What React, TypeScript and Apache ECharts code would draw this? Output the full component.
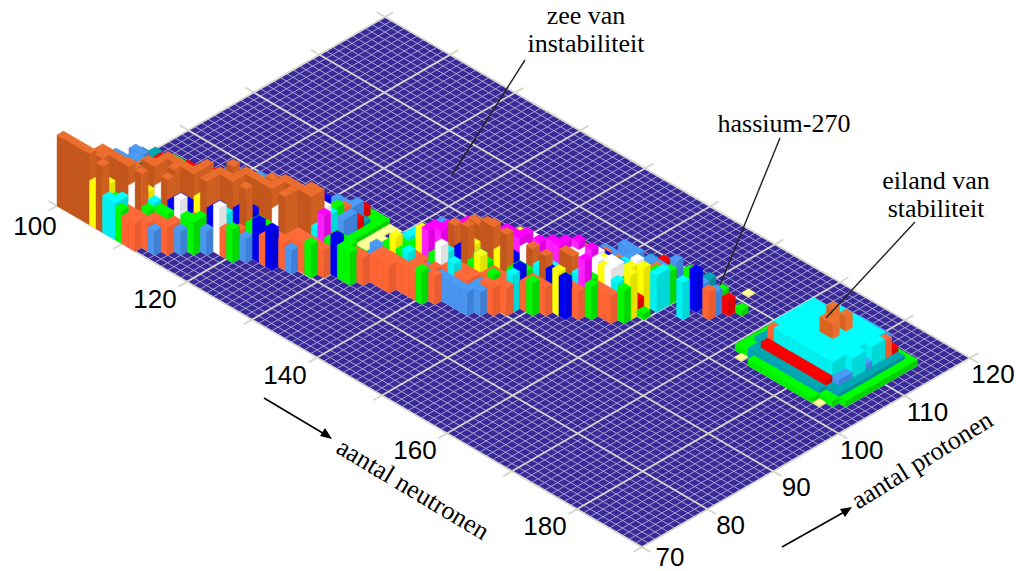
import React, { useEffect, useRef } from "react";
import * as echarts from "echarts";

// axis ranges and tick labels
const neutronRange = [100, 190];
const protonRange = [70, 120];
const neutronTicks = [100, 120, 140, 160, 180];
const protonTicks = [70, 80, 90, 100, 110, 120];

// half-life classes: key, column height
const classKeys = ["Z", "O", "o", "n", "m", "q", "M", "W", "Y", "B", "C", "G", "R", "K", "c", "k", "j", "r", "T", "g", "p"];
const classHeights = [71, 66, 66, 60, 52, 45, 55, 47, 44, 40, 37, 33, 28, 24, 30, 16, 3, 16, 10, 6, 1];

// one row per proton number: first neutron number, then a class per nuclide ("." = none)
const protonRows = [
  70, 71, 72, 73, 74, 75, 76, 77, 78, 79, 80, 81, 82, 83, 84, 85, 86, 87, 88, 89, 90, 91, 92, 93, 94, 95, 96, 97, 98, 99,
  100, 101, 102, 103, 104, 105, 106, 107, 108, 109, 111,
  102, 103, 104, 105, 106, 107, 108, 109, 110, 111, 112, 113, 114,
];
const firstNeutron = [
  100, 100, 100, 100, 100, 100, 100, 100, 100, 100, 100, 100, 100, 101, 102, 110, 113, 118, 121, 122, 122, 122, 125, 132, 134, 137, 141, 145, 146, 149,
  150, 146, 148, 149, 150, 151, 152, 153, 156, 157, 164,
  172, 171, 171, 171, 171, 171, 171, 171, 171, 171, 171, 172, 173,
];
const nuclideClasses = [
  "ZZZZZYOCCGRR",
  "YYWWOOYGCRRRRK",
  "WBmWOOOOOWOGRRR",
  "CGBCBCBnnWYCGGRK",
  "GGCCYGmWmOOWnBWGG",
  "RRGGGRBBBYOBOBBRGK",
  "RRRRGGBBmYOOOOOYOBWRG",
  "KKKRRGGCBBBBYYOBOBCKRK",
  "KKKKRRGCCCYBmBOMOOOBOGBRB",
  "rrKKKKRGRRGGCCBBYYOBBGGRRRK",
  "TKKrrrRRRRGGCCYBOBOOOOOWORRRG",
  "rrTrrrrrKKKGGGCCCCCBBYOWORRRRR",
  "TTTrrrrrrrRRGGGRCCBCnBOOOOOCMGBGG",
  "TgTTTrrrrrrRRRGGGCCBBYYMOOCRGGGRR",
  "pggggTTrrKKKRRGGGGCCYCWMWrppggrKRRR",
  "rrrKKKKRRRGGCCCCCrppggTgRRRRRRG",
  "rKKKKRRRGGCBGTppggTKKGYGCRRKR",
  "KKKKKRRGKgpppgTKRGGRRKRKKKKK",
  "KKKKRKgpppjTKKCGYMGWRCRRKK",
  "rKKKrgpppjTKRCYBMMCRRRRKRR",
  "TrrKTgpppjgrKRGYWMnBoGYRGRR",
  "gTTrggp.pjgrKRGBBYMBYCGRRRC",
  "gggppppjgTrKRGYYMnnooYoGBRG".slice(0, 7) + "gTrKRGYYMnnooYoGBRG",
  "gTrKRRGGGYWnmBBGGRRR",
  "KKRRGGCGWWMMMWmCmBYB",
  "KRRGRCCBBMBMBCGGRR",
  "RCCYWWWWMMmmCMG",
  "RCCYBMWWCGRRR",
  "GGBCWMWMWYWCG",
  "GCCBWYWWGY",
  "GCBBCBCYrg",
  "rKKRRRRRGCCWY",
  "grKRKRKKgGTC",
  "rKKKKKKKRGC..C",
  "grgKTKTRgG",
  "KKKrKKKK...B.R",
  "TTTTTr....K.K",
  "TTr.K.......r",
  "gggT......g",
  "g..T.g",
  "p",
  // island of stability
  "p.ggggggggggp",
  "ggTTTTTTTTTTTgg",
  "ggTrrrrrrrrrrTTg",
  "gTTRccccccccckTg",
  "gTTcccccccccckTg",
  "ggTcccccccccccTg",
  "gggcccccqqccccTg",
  "ggTcccccccccckTg",
  "gggccccqcqccccTg",
  "gTTcccccccccccTg",
  "gTTTTccccccccRTg",
  "gggTTTTKKKKKrTg",
  "gggggggggggggg",
];

const burnt = ["#ec6e2e", "#c2561c", "#cf5f20"];
const cyan = ["#00ffff", "#00f0f0", "#00d8d8"];
const coral = ["#ff6a3a", "#ff6433", "#e85c30"];
const cornflower = ["#4a9cf4", "#4a94ee", "#3c80d8"];
const classColors: Record<string, string[]> = {
  Z: burnt,
  O: burnt,
  o: burnt,
  n: burnt,
  m: burnt,
  q: ["#f0722f", "#d8641f", "#ec6e2e"],
  M: ["#ff00ff", "#ff20ff", "#e000e0"],
  W: ["#ffffff", "#ffffff", "#e0e0e0"],
  Y: ["#ffff10", "#ffff00", "#e4e000"],
  B: ["#0000ff", "#0000f4", "#0000d8"],
  C: cyan,
  c: cyan,
  G: ["#00ff00", "#00f800", "#00d800"],
  R: coral,
  K: cornflower,
  k: cornflower,
  j: cornflower,
  r: ["#ff0000", "#f40000", "#d80000"],
  T: ["#00a8b4", "#00a4b0", "#008c98"],
  g: ["#00ff00", "#00f000", "#00d000"],
  p: ["#ffff99", "#f0f090", "#e0e080"],
};

const heightOf = (key: string) => classHeights[classKeys.indexOf(key)];

const bars: number[][] = [];
const barKeys: string[] = [];
protonRows.forEach((z, i) => {
  nuclideClasses[i].split("").forEach((key, j) => {
    if (key !== ".") {
      bars.push([firstNeutron[i] + j, z, heightOf(key), bars.length]);
      barKeys.push(key);
    }
  });
});
const barOrder = bars.slice().sort((a, b) => a[0] - a[1] - (b[0] - b[1]) || a[0] + a[1] - b[0] - b[1]);

// oblique view of the plane (pixels per nucleon along each axis)
const project = (n: number, z: number, h = 0): number[] => [
  642 + (n - neutronRange[1]) * 6.5 + (z - protonRange[0]) * 6.56,
  547 + (n - neutronRange[1]) * 3.79 - (z - protonRange[0]) * 3.78 - h,
];

const makeLines = () => {
  const out: number[][] = [];
  const [n0, n1] = neutronRange;
  const [z0, z1] = protonRange;
  for (let n = n0; n <= n1; n++) {
    const major = (n - n0) % 10 === 0;
    out.push(major ? [n, z0 - 1.3, n, z1 + 1.3, 1] : [n, z0, n, z1, 0]);
  }
  for (let z = z0; z <= z1; z++) {
    const major = (z - z0) % 10 === 0;
    out.push(major ? [n0 - 1.3, z, n1 + 1.3, z, 1] : [n0, z, n1, z, 0]);
  }
  return out.sort((a, b) => a[4] - b[4]);
};

const rad = Math.PI / 180;

const text = (s: string, x: number, y: number, font: string, rotation = 0) => ({
  type: "text",
  x,
  y,
  rotation,
  z: 100,
  style: { text: s, x: 0, y: 0, font, fill: "#000", textAlign: "center", textVerticalAlign: "middle" },
});
const line = (x1: number, y1: number, x2: number, y2: number, w = 1.4, c = "#222") => ({
  type: "line",
  z: 100,
  shape: { x1, y1, x2, y2 },
  style: { stroke: c, lineWidth: w },
});
const head = (pts: number[][]) => ({ type: "polygon", z: 100, shape: { points: pts }, style: { fill: "#000" } });

const SANS = '26px "Liberation Sans"';
const SERIF = '26px "Liberation Serif"';

export default function App() {
  const ref = useRef<HTMLDivElement>(null);
  useEffect(() => {
    const chart = echarts.init(ref.current!, null, { renderer: "svg" });
    const labels: any[] = [];
    neutronTicks.forEach((n, i) => {
      const p = project(n, protonRange[0]);
      labels.push(text(String(n), p[0] + (i === 0 ? -22 : -32), p[1] + (i === 0 ? 20 : 17), SANS));
    });
    protonTicks.forEach((z, i) => {
      const p = project(neutronRange[1], z);
      labels.push(text(String(z), p[0] + (i === 0 ? 28 : 23), p[1] + (i === 0 ? 10 : 16), SANS));
    });
    chart.setOption({
      animation: false,
      grid: { left: 0, right: 0, top: 0, bottom: 0 },
      xAxis: { type: "value", min: 0, max: 1016, show: false },
      yAxis: { type: "value", min: 0, max: 571, inverse: true, show: false },
      series: [
        {
          type: "custom",
          silent: true,
          clip: false,
          z: 1,
          coordinateSystem: "cartesian2d",
          data: [[0]],
          renderItem: (_p: any, api: any) => {
            const [n0, n1] = neutronRange;
            const [z0, z1] = protonRange;
            const c = (n: number, z: number) => api.coord(project(n, z));
            const children: any[] = [
              {
                type: "polygon",
                shape: { points: [c(n0, z0), c(n1, z0), c(n1, z1), c(n0, z1)] },
                style: { fill: "#3a2a98" },
              },
            ];
            makeLines().forEach((l) => {
              const a = c(l[0], l[1]);
              const b = c(l[2], l[3]);
              children.push({
                type: "line",
                shape: { x1: a[0], y1: a[1], x2: b[0], y2: b[1] },
                style: l[4] ? { stroke: "#d6d6ce", lineWidth: 1.8 } : { stroke: "#a9a3d4", lineWidth: 1 },
              });
            });
            return { type: "group", children };
          },
        },
        {
          type: "custom",
          silent: true,
          clip: false,
          z: 2,
          coordinateSystem: "cartesian2d",
          data: barOrder,
          encode: { x: 0, y: 1 },
          renderItem: (_p: any, api: any) => {
            const n = api.value(0);
            const z = api.value(1);
            const h = api.value(2);
            const cols = classColors[barKeys[api.value(3)]];
            const c = (a: number, b: number, t: number) => api.coord(project(a, b, t));
            const poly = (points: number[][], fill: string) => ({
              type: "polygon",
              shape: { points },
              style: { fill, stroke: fill, lineWidth: 0.4 },
            });
            return {
              type: "group",
              children: [
                poly([c(n, z, 0), c(n + 1, z, 0), c(n + 1, z, h), c(n, z, h)], cols[1]),
                poly([c(n + 1, z, 0), c(n + 1, z + 1, 0), c(n + 1, z + 1, h), c(n + 1, z, h)], cols[2]),
                poly([c(n, z, h), c(n + 1, z, h), c(n + 1, z + 1, h), c(n, z + 1, h)], cols[0]),
              ],
            };
          },
        },
      ],
      graphic: {
        elements: [
          ...labels,
          text("zee van", 586, 15, SERIF),
          text("instabiliteit", 586, 43, SERIF),
          text("hassium-270", 784, 123, SERIF),
          text("eiland van", 936, 180, SERIF),
          text("stabiliteit", 936, 208, SERIF),
          text("aantal neutronen", 413, 489, SERIF, -31 * rad),
          text("aantal protonen", 922, 460, SERIF, 32 * rad),
          line(525, 60, 452, 175),
          line(780, 138, 720, 285),
          line(915, 222, 826, 318),
          line(264, 398, 326, 435, 1.6, "#000"),
          head([[332, 439], [320, 436], [325, 428]]),
          line(782, 547, 846, 511, 1.6, "#000"),
          head([[852, 507], [845, 517], [840, 509]]),
        ],
      },
    });
    return () => chart.dispose();
  }, []);
  return <div ref={ref} style={{ position: "absolute", left: 0, top: 0, width: 1016, height: 571, background: "#fff" }} />;
}
